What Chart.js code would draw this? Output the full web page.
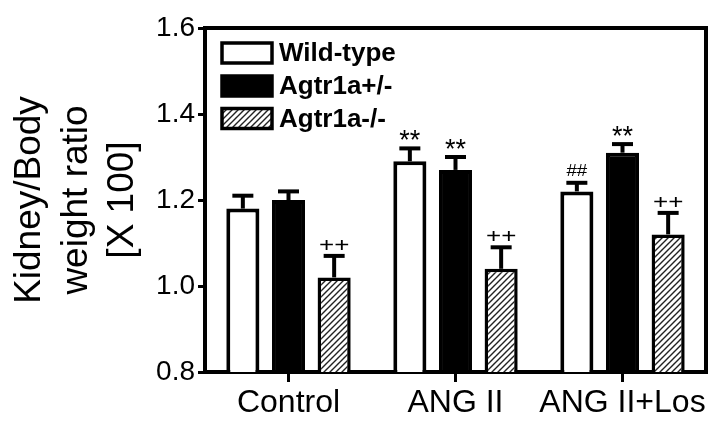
<!DOCTYPE html>
<html>
<head>
<meta charset="utf-8">
<script src="https://cdn.jsdelivr.net/npm/chart.js@4/dist/chart.umd.min.js"></script>
<style>
  html, body { margin: 0; padding: 0; background: #fff; }
  #wrap { width: 716px; height: 426px; }
</style>
</head>
<body>
<div id="wrap"><canvas id="c" width="716" height="426"></canvas></div>
<script>
// ---- data ----
const categories = ['Control', 'ANG II', 'ANG II+Los'];
const seriesNames = ['Wild-type', 'Agtr1a+/-', 'Agtr1a-/-'];
const wildType = [1.18, 1.29, 1.22];
const wildTypeErr = [0.03, 0.03, 0.02];
const hetero = [1.20, 1.27, 1.31];
const heteroErr = [0.02, 0.03, 0.02];
const knockout = [1.02, 1.04, 1.12];
const knockoutErr = [0.05, 0.05, 0.05];
const wildTypeMarks = ['', '**', '##'];
const heteroMarks = ['', '**', '**'];
const knockoutMarks = ['++', '++', '++'];
const yTicks = [0.8, 1.0, 1.2, 1.4, 1.6];
const yTitle = ['Kidney/Body', 'weight ratio', '[X 100]'];

const errs = [wildTypeErr, heteroErr, knockoutErr];
const marks = [wildTypeMarks, heteroMarks, knockoutMarks];

const FONT = '"Liberation Sans", Arial, Helvetica, sans-serif';

// hatch pattern
function makeHatch(ctx) {
  const pc = document.createElement('canvas');
  pc.width = 6; pc.height = 6;
  const g = pc.getContext('2d');
  g.fillStyle = '#fff'; g.fillRect(0, 0, 6, 6);
  g.strokeStyle = '#222'; g.lineWidth = 1.4;
  g.beginPath();
  g.moveTo(0, 6); g.lineTo(6, 0);
  g.moveTo(-1, 1); g.lineTo(1, -1);
  g.moveTo(5, 7); g.lineTo(7, 5);
  g.stroke();
  return ctx.createPattern(pc, 'repeat');
}

const canvas = document.getElementById('c');
const ctx0 = canvas.getContext('2d');
const hatch = makeHatch(ctx0);

const fills = ['#ffffff', '#000000', hatch];

const extras = {
  id: 'extras',
  afterDatasetsDraw(chart) {
    const ctx = chart.ctx;
    const ys = chart.scales.y;
    ctx.save();
    ctx.strokeStyle = '#000';
    ctx.fillStyle = '#000';
    chart.data.datasets.forEach((ds, i) => {
      const meta = chart.getDatasetMeta(i);
      meta.data.forEach((el, j) => {
        const top = ys.getPixelForValue(ds.data[j] + errs[i][j]);
        ctx.lineWidth = 4;
        ctx.beginPath();
        ctx.moveTo(el.x, el.y);
        ctx.lineTo(el.x, top);
        ctx.stroke();
        ctx.beginPath();
        ctx.moveTo(el.x - 10.5, top);
        ctx.lineTo(el.x + 10.5, top);
        ctx.stroke();
        const m = marks[i][j];
        if (m) {
          let size = 27, gap = 6, sx = 1;
          if (m === '##') { size = 17; gap = 5; sx = 1.1; }
          if (m === '++') { size = 20; gap = 4; sx = 1.3; }
          ctx.font = size + 'px ' + FONT;
          ctx.textAlign = 'center';
          ctx.textBaseline = 'alphabetic';
          const mt = ctx.measureText(m);
          const base = top - 2 - gap - mt.actualBoundingBoxDescent;
          ctx.save();
          ctx.translate(el.x, base);
          ctx.scale(sx, 1);
          ctx.fillText(m, 0, 0);
          ctx.restore();
        }
      });
    });
    ctx.restore();
  },
  afterDraw(chart) {
    const ctx = chart.ctx;
    const a = chart.chartArea;
    ctx.save();
    // frame top and right
    ctx.strokeStyle = '#000';
    ctx.lineWidth = 4;
    ctx.beginPath();
    ctx.moveTo(a.left - 2, a.top);
    ctx.lineTo(a.right, a.top);
    ctx.lineTo(a.right, a.bottom + 2);
    ctx.stroke();
    // legend
    const bx = a.left + 17, bw = 50, bh = 20;
    const rows = [53, 86, 118.5];
    chart.data.datasets.forEach((ds, i) => {
      const cy = rows[i];
      ctx.fillStyle = fills[i];
      ctx.fillRect(bx, cy - bh / 2, bw, bh);
      ctx.lineWidth = 3.5;
      ctx.strokeStyle = '#000';
      ctx.strokeRect(bx, cy - bh / 2, bw, bh);
      ctx.fillStyle = '#000';
      ctx.font = 'bold 26px ' + FONT;
      ctx.textAlign = 'left';
      ctx.textBaseline = 'middle';
      ctx.fillText(ds.label, bx + bw + 7, cy + 1);
    });
    ctx.restore();
  }
};

new Chart(canvas, {
  type: 'bar',
  data: {
    labels: categories,
    datasets: [
      { label: seriesNames[0], data: wildType, backgroundColor: fills[0], borderColor: '#000', borderWidth: 4 },
      { label: seriesNames[1], data: hetero, backgroundColor: fills[1], borderColor: '#000', borderWidth: 4 },
      { label: seriesNames[2], data: knockout, backgroundColor: fills[2], borderColor: '#000', borderWidth: 3.5 }
    ]
  },
  options: {
    responsive: false,
    animation: false,
    devicePixelRatio: 1,
    categoryPercentage: 0.82,
    barPercentage: 0.725,
    layout: { padding: { left: 0, right: 10, top: 28, bottom: 0 } },
    plugins: { legend: { display: false }, tooltip: { enabled: false } },
    scales: {
      x: {
        afterFit(s) { s.height = 54; },
        grid: { offset: false, drawOnChartArea: false, tickLength: 10, tickWidth: 3, color: '#000' },
        border: { display: true, width: 4, color: '#000' },
        ticks: { color: '#000', font: { family: FONT, size: 32 }, padding: 2, maxRotation: 0, autoSkip: false }
      },
      y: {
        min: 0.8, max: 1.6,
        afterFit(s) { s.width = 205; },
        afterBuildTicks(s) { s.ticks = yTicks.map(v => ({ value: v })); },
        grid: { drawOnChartArea: false, tickLength: 7, tickWidth: 3, color: '#000' },
        border: { display: true, width: 4, color: '#000' },
        ticks: { color: '#000', font: { family: FONT, size: 28 }, padding: 3, callback: v => Number(v).toFixed(1) },
        title: {
          display: true, text: yTitle, color: '#000',
          font: { family: FONT, size: 37, lineHeight: 1.257 },
          padding: { top: 7, bottom: 0 }
        }
      }
    }
  },
  plugins: [extras]
});
</script>
</body>
</html>
